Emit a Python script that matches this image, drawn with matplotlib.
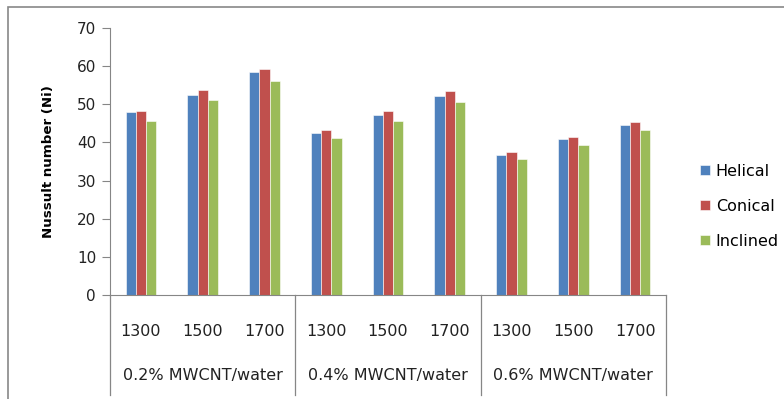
import matplotlib.pyplot as plt
import matplotlib.transforms as mtransforms
from matplotlib.patches import Rectangle
import numpy as np

# Nusselt number by Reynolds number for three nanofluid concentrations
concentrations = ["0.2% MWCNT/water", "0.4% MWCNT/water", "0.6% MWCNT/water"]
reynolds = ["1300", "1500", "1700"]
helical = [48.0, 52.4, 58.5, 42.5, 47.3, 52.2, 36.7, 40.8, 44.6]
conical = [48.3, 53.8, 59.2, 43.2, 48.3, 53.4, 37.4, 41.4, 45.3]
inclined = [45.7, 51.1, 56.2, 41.2, 45.7, 50.6, 35.6, 39.3, 43.2]

series = [("Helical", helical, "#4F81BD"),
          ("Conical", conical, "#C0504D"),
          ("Inclined", inclined, "#9BBB59")]

plt.rcParams['font.family'] = 'DejaVu Sans'
fig = plt.figure(figsize=(7.84, 3.99), dpi=100)
ax = fig.add_axes([110/784, 1 - 295/399, 556/784, 267/399])

x = np.arange(len(helical))
w = 0.165
for i, (name, vals, col) in enumerate(series):
    ax.bar(x + (i - 1) * w, vals, width=w, color=col, edgecolor='white',
           linewidth=0.4, label=name)

ax.set_xlim(-0.5, len(x) - 0.5)
ax.set_ylim(0, 70)
ax.set_yticks(range(0, 71, 10))
ax.tick_params(axis='y', labelsize=11, length=6, color='#868686', pad=4,
               labelcolor='#222222')
ax.tick_params(axis='x', length=0, labelsize=11.5, pad=21, labelcolor='#222222')
ax.set_xticks(x)
ax.set_xticklabels(reynolds * len(concentrations))

for side in ['top', 'right']:
    ax.spines[side].set_visible(False)
for side in ['left', 'bottom']:
    ax.spines[side].set_color('#868686')

ax.set_ylabel("Nussult number (Ni)", fontsize=9.6, fontweight='bold',
              labelpad=16)

# category table below the axis
trans = mtransforms.blended_transform_factory(ax.transData, ax.transAxes)
for b in np.arange(-0.5, len(x), 3):
    ax.plot([b, b], [0, -0.375], transform=trans, color='#868686', lw=0.9,
            clip_on=False)
for g, label in enumerate(concentrations):
    ax.text(g * 3 + 1, -0.30, label, transform=trans, ha='center',
            va='center', fontsize=11.5, color='#222222')

ax.legend(loc='center left', bbox_to_anchor=(1.035, 0.333), frameon=False,
          fontsize=11.5, handlelength=0.65, handleheight=0.65,
          handletextpad=0.35, labelspacing=1.25)

# chart area border
fig.patches.append(Rectangle((8/784, -0.1), 1.5, 1 - 7/399 + 0.1,
                             transform=fig.transFigure, fill=False,
                             edgecolor='#888888', lw=1.2))

fig.savefig("out.png", dpi=100)
